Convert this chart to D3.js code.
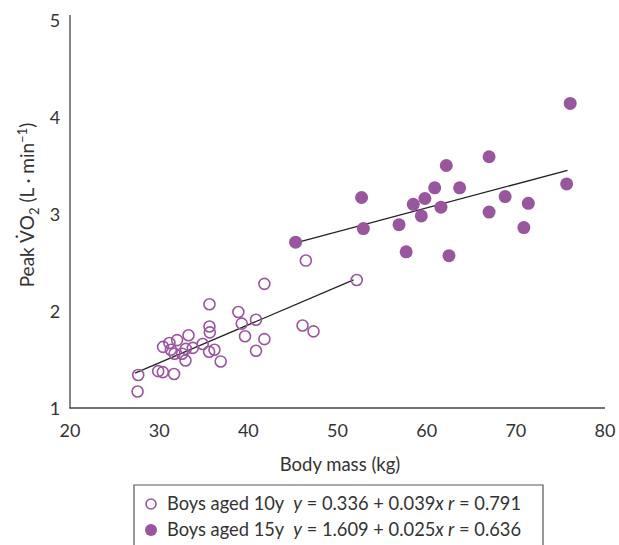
<!DOCTYPE html>
<html>
<head>
<meta charset="utf-8">
<script src="https://cdn.jsdelivr.net/npm/d3@7"></script>
<style>
  body { margin: 0; background: #fff; }
  text { font-family: Lato, "Open Sans", sans-serif; fill: #333; }
</style>
</head>
<body>
<script>
// data
const boys10Mass = [27.65, 27.58, 29.89, 30.41, 31.67, 30.44, 31.15, 32.01, 33.29, 31.31,
                    31.72, 32.57, 32.99, 32.95, 33.77, 34.88, 35.60, 36.20, 36.90, 35.64,
                    35.68, 35.64, 38.88, 39.26, 40.86, 39.63, 41.80, 40.86, 41.80, 46.08,
                    47.31, 46.45, 52.16];
const boys10VO2 = [1.34, 1.17, 1.38, 1.37, 1.35, 1.63, 1.67, 1.70, 1.75, 1.60,
                   1.56, 1.56, 1.61, 1.49, 1.62, 1.66, 1.58, 1.60, 1.48, 1.84,
                   1.78, 2.07, 1.99, 1.87, 1.91, 1.74, 1.71, 1.59, 2.28, 1.85,
                   1.79, 2.52, 2.32];
const boys15Mass = [76.1, 67.0, 62.2, 52.7, 60.9, 63.7, 59.8, 58.5, 61.6, 59.4,
                    68.8, 75.7, 71.4, 67.0, 52.9, 56.9, 70.9, 45.3, 57.7, 62.5];
const boys15VO2 = [4.14, 3.59, 3.50, 3.17, 3.27, 3.27, 3.16, 3.10, 3.07, 2.98,
                   3.18, 3.31, 3.11, 3.02, 2.85, 2.89, 2.86, 2.71, 2.61, 2.57];
// fitted lines, end points
const fit10 = [[27.3, 1.36], [51.8, 2.32]];
const fit15 = [[45.2, 2.70], [75.8, 3.45]];

const xTicks = [20, 30, 40, 50, 60, 70, 80];
const yTicks = [1, 2, 3, 4, 5];

const purple = "#9a559f";

const svg = d3.select("body").append("svg")
    .attr("width", 619)
    .attr("height", 545);

const x = d3.scaleLinear().domain([20, 80]).range([70, 605]);
const y = d3.scaleLinear().domain([1, 5]).range([408, 20]);

// axes
svg.append("line")
    .attr("x1", 70).attr("x2", 70)
    .attr("y1", 15).attr("y2", 408.5)
    .attr("stroke", "#444").attr("stroke-width", 1.3);
svg.append("line")
    .attr("x1", 69.5).attr("x2", 605)
    .attr("y1", 408).attr("y2", 408)
    .attr("stroke", "#444").attr("stroke-width", 1.3);

svg.selectAll(".xt")
    .data(xTicks)
    .enter().append("text")
    .attr("x", d => x(d))
    .attr("y", 437)
    .attr("text-anchor", "middle")
    .attr("font-size", "18px")
    .text(d => d);

svg.selectAll(".yt")
    .data(yTicks)
    .enter().append("text")
    .attr("x", 55)
    .attr("y", d => y(d) + 7)
    .attr("text-anchor", "middle")
    .attr("font-size", "18px")
    .text(d => d);

svg.append("text")
    .attr("x", 340)
    .attr("y", 471)
    .attr("text-anchor", "middle")
    .attr("font-size", "18.5px")
    .text("Body mass (kg)");

const yl = svg.append("text")
    .attr("transform", "translate(34,205) rotate(-90)")
    .attr("text-anchor", "middle")
    .attr("font-size", "19px")
    .attr("xml:space", "preserve");
yl.append("tspan").text("Peak V\u0307O");
yl.append("tspan").attr("font-size", "13px").attr("dy", 5).text("2");
yl.append("tspan").attr("dy", -5).text(" (L \u00b7 min");
yl.append("tspan").attr("font-size", "13px").attr("dy", -7).text("\u22121");
yl.append("tspan").attr("dy", 7).text(")");

// regression lines
const line = d3.line().x(d => x(d[0])).y(d => y(d[1]));
[fit10, fit15].forEach(f => {
    svg.append("path")
        .attr("d", line(f))
        .attr("fill", "none")
        .attr("stroke", "#222")
        .attr("stroke-width", 1.3);
});

// points
svg.selectAll(".p10")
    .data(boys10Mass)
    .enter().append("circle")
    .attr("cx", d => x(d))
    .attr("cy", (d, i) => y(boys10VO2[i]))
    .attr("r", 5.5)
    .attr("fill", "none")
    .attr("stroke", purple)
    .attr("stroke-width", 1.6);

svg.selectAll(".p15")
    .data(boys15Mass)
    .enter().append("circle")
    .attr("cx", d => x(d))
    .attr("cy", (d, i) => y(boys15VO2[i]))
    .attr("r", 6.5)
    .attr("fill", purple);

// legend
svg.append("path")
    .attr("d", "M134,545 V485 H543 V545")
    .attr("fill", "none")
    .attr("stroke", "#555")
    .attr("stroke-width", 1.2);

svg.append("circle")
    .attr("cx", 151).attr("cy", 504).attr("r", 5)
    .attr("fill", "none").attr("stroke", purple).attr("stroke-width", 1.6);
svg.append("circle")
    .attr("cx", 151).attr("cy", 530).attr("r", 6)
    .attr("fill", purple);

const legendRows = [
    ["Boys aged 10y  ", "0.336", "0.039", "0.791"],
    ["Boys aged 15y  ", "1.609", "0.025", "0.636"]
];
legendRows.forEach((r, i) => {
    const t = svg.append("text")
        .attr("x", 167)
        .attr("y", 510 + i * 26)
        .attr("font-size", "18.3px")
        .attr("xml:space", "preserve");
    t.append("tspan").text(r[0]);
    t.append("tspan").attr("font-style", "italic").text("y");
    t.append("tspan").text(" = " + r[1] + " + " + r[2]);
    t.append("tspan").attr("font-style", "italic").text("x r");
    t.append("tspan").text(" = " + r[3]);
});
</script>
</body>
</html>
